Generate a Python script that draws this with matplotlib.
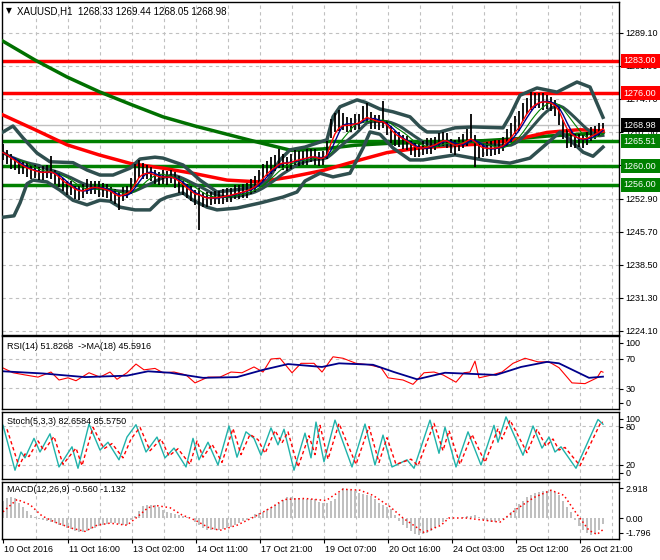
"""
XAUUSD H1 chart with bands, moving averages, RSI, Stochastic and MACD
"""

import matplotlib
matplotlib.use("Agg")
import matplotlib.pyplot as plt
from matplotlib.patches import Rectangle
import numpy as np
import pandas as pd

plt.rcParams['font.family'] = ['Liberation Sans', 'DejaVu Sans']

W, H = 660, 560

# Price data, one bar per 2 hours
close = [
    1263.0, 1262.0, 1261.2, 1260.7, 1260.0, 1259.6, 1259.2, 1259.0, 1258.8, 1258.5,
    1258.6, 1258.8, 1258.8, 1258.0, 1257.0, 1256.0, 1255.6, 1255.2, 1254.4, 1254.3,
    1254.6, 1255.4, 1255.6, 1255.5, 1255.2, 1254.9, 1254.6, 1254.2, 1253.3, 1253.0,
    1254.0, 1254.4, 1255.2, 1257.6, 1259.0, 1259.0, 1258.7, 1258.4, 1257.7, 1257.4,
    1257.6, 1257.6, 1257.7, 1257.0, 1256.2, 1255.3, 1254.6, 1254.0, 1253.3, 1253.6,
    1253.0, 1252.8, 1253.1, 1253.2, 1253.3, 1253.5, 1253.7, 1253.9, 1254.2, 1254.4,
    1254.6, 1255.0, 1255.4, 1256.0, 1257.2, 1258.3, 1259.3, 1260.0, 1260.3, 1261.2,
    1261.0, 1260.6, 1261.0, 1261.6, 1261.6, 1261.8, 1262.0, 1262.3, 1262.0, 1261.5,
    1261.8, 1263.1, 1267.6, 1269.2, 1269.6, 1269.4, 1269.0, 1269.0, 1269.5, 1269.7,
    1270.8, 1271.2, 1270.0, 1269.7, 1269.5, 1269.7, 1268.4, 1267.0, 1266.2, 1265.9,
    1265.5, 1265.0, 1264.3, 1263.6, 1263.8, 1264.0, 1264.3, 1264.6, 1265.0, 1265.6,
    1266.0, 1265.5, 1264.5, 1264.2, 1264.9, 1265.3, 1266.0, 1266.5, 1264.7, 1263.7,
    1263.6, 1263.8, 1264.0, 1264.0, 1264.3, 1264.8, 1266.1, 1267.2, 1268.6, 1269.4,
    1271.6, 1273.0, 1273.8, 1274.1, 1274.4, 1274.2, 1274.0, 1273.6, 1272.7, 1271.0,
    1268.0, 1266.4, 1266.0, 1265.9, 1265.8, 1265.8, 1266.2, 1267.0, 1267.4, 1268.0,
    1268.98,
]
# high - close
up = [
    1.8, 1.5, 1.6, 1.2, 1.4, 1.3, 1.5, 1.2, 1.6, 1.4,
    1.5, 1.6, 3.5, 1.3, 1.6, 1.4, 1.2, 1.5, 1.3, 1.4,
    1.6, 1.8, 1.3, 1.2, 1.5, 1.4, 1.6, 1.3, 1.8, 1.5,
    1.6, 1.4, 2.2, 3.0, 2.4, 1.8, 1.6, 1.4, 1.5, 1.3,
    1.6, 1.4, 1.5, 1.8, 1.6, 1.4, 1.5, 1.7, 1.5, 1.6,
    1.4, 1.6, 1.3, 1.5, 1.4, 1.6, 1.5, 1.4, 1.7, 1.5,
    1.6, 1.4, 1.8, 2.0, 1.9, 2.2, 1.8, 2.0, 2.2, 2.6,
    1.8, 1.5, 1.6, 2.0, 1.8, 1.6, 1.7, 1.5, 1.8, 1.6,
    1.5, 2.5, 2.8, 2.4, 2.6, 2.2, 1.8, 1.6, 2.0, 1.8,
    2.4, 2.6, 1.8, 1.6, 1.8, 4.6, 1.5, 1.8, 1.6, 1.5,
    1.4, 1.6, 1.3, 1.5, 1.4, 1.6, 1.8, 1.5, 1.4, 1.6,
    1.5, 1.8, 1.4, 1.6, 1.5, 1.8, 2.2, 5.0, 2.2, 1.6,
    1.4, 1.5, 1.6, 1.8, 1.4, 1.6, 2.0, 2.2, 2.4, 2.6,
    2.2, 2.0, 2.4, 1.8, 1.6, 1.7, 1.5, 1.6, 1.8, 2.0,
    2.2, 1.8, 1.4, 1.2, 1.3, 1.2, 1.4, 1.5, 1.3, 1.4,
    0.5,
]
# close - low
dn = [
    1.6, 1.5, 1.8, 1.4, 1.6, 1.3, 1.5, 1.8, 1.4, 1.5,
    1.6, 1.4, 1.5, 1.8, 1.6, 1.4, 1.9, 1.5, 1.6, 1.7,
    1.5, 1.4, 1.6, 1.5, 1.8, 1.6, 1.4, 1.8, 1.6, 2.6,
    1.5, 1.4, 1.2, 1.5, 1.6, 1.8, 1.4, 1.5, 1.6, 1.4,
    1.5, 1.6, 1.4, 1.8, 2.0, 1.6, 1.5, 1.6, 1.8, 7.5,
    1.8, 1.6, 1.5, 1.4, 1.6, 1.8, 1.5, 1.6, 1.4, 1.5,
    1.6, 2.0, 1.5, 1.6, 1.4, 1.5, 1.3, 1.6, 1.4, 1.5,
    1.8, 1.6, 1.5, 1.4, 1.6, 1.5, 1.8, 1.4, 1.6, 1.5,
    1.6, 1.4, 1.5, 1.6, 1.8, 1.5, 1.6, 1.4, 1.5, 1.6,
    1.4, 1.5, 1.8, 1.6, 1.5, 1.4, 1.6, 1.8, 1.7, 1.6,
    1.8, 1.5, 1.8, 1.6, 1.7, 1.5, 1.6, 1.8, 1.5, 1.4,
    1.6, 1.5, 1.6, 1.8, 1.5, 1.4, 1.6, 1.5, 4.9, 1.8,
    1.6, 1.5, 1.7, 1.6, 1.5, 1.4, 1.6, 1.8, 1.5, 1.6,
    1.8, 1.6, 1.5, 1.4, 1.6, 1.8, 1.5, 1.6, 1.8, 2.0,
    2.0, 2.4, 1.8, 1.9, 1.6, 1.8, 1.6, 1.5, 1.4, 1.3,
    0.9,
]

# Long moving averages, read every 16 hours
long_ma_hours = [0, 16, 32, 48, 64, 80, 96, 112, 128, 144, 160, 176, 192, 208, 224, 240, 256, 272, 288, 300]
ma_slow_green = [1287.3, 1283.2, 1279.5, 1276.3, 1273.5, 1270.8, 1268.8, 1267.0, 1265.2, 1263.5,
                 1263.8, 1264.6, 1265.0, 1265.2, 1265.4, 1265.6, 1266.0, 1266.6, 1267.0, 1267.4]
ma_slow_red = [1271.2, 1268.0, 1264.7, 1262.5, 1260.6, 1259.6, 1258.4, 1257.0, 1256.6, 1257.7,
               1259.1, 1261.1, 1263.0, 1264.0, 1264.5, 1264.9, 1265.8, 1267.4, 1268.0, 1267.7]

# Bollinger band edges, turning points (hour index, price)
bb_up_hours = [0, 5, 10, 17, 23.5, 35, 42, 48.5, 55, 63.5, 68.5, 76, 80, 90, 98.5, 107, 115, 123.5,
               132, 138.5, 143.5, 151, 155, 162, 165, 168.5, 177, 181, 188.5, 195, 203.5, 208.5,
               212, 218.5, 226, 235, 250, 253.5, 258.5, 267, 277, 287, 293.5, 300]
bb_up_vals = [1267.5, 1268.8, 1266.2, 1262.9, 1261.0, 1260.8, 1259.2, 1258.1, 1258.1, 1259.6, 1261.6,
              1262.0, 1261.8, 1260.3, 1257.0, 1254.4, 1254.8, 1255.3, 1256.6, 1261.4, 1263.6,
              1264.2, 1264.8, 1265.8, 1270.8, 1273.0, 1274.5, 1274.0, 1272.5, 1271.9, 1270.8,
              1268.6, 1267.5, 1267.5, 1268.4, 1268.6, 1268.4, 1271.0, 1275.5, 1277.1, 1276.2,
              1278.4, 1277.3, 1270.7]
bb_lo_hours = [0, 5.5, 8.5, 12, 15, 22, 28.5, 35, 42, 48.5, 53.5, 58.5, 66, 73.5, 78.5, 82, 90, 95,
               102, 107, 117, 128.5, 140, 147, 151, 158.5, 165, 173.5, 180, 183.5, 188.5, 195,
               203.5, 210, 218.5, 226, 240, 253.5, 263.5, 272, 278.5, 282, 290, 295, 300]
bb_lo_vals = [1248.9, 1249.2, 1252.0, 1256.2, 1257.0, 1256.6, 1254.8, 1252.6, 1251.6, 1252.6, 1252.4,
              1251.1, 1250.5, 1250.5, 1252.6, 1253.3, 1254.2, 1252.6, 1251.1, 1250.5, 1250.9,
              1252.0, 1253.3, 1254.4, 1256.8, 1258.5, 1257.7, 1258.5, 1264.0, 1267.5, 1267.0,
              1264.0, 1261.4, 1261.4, 1262.0, 1262.5, 1261.4, 1260.7, 1261.8, 1265.0, 1267.5,
              1266.4, 1263.1, 1262.2, 1264.2]

# Horizontal levels
red_levels = [1283.00, 1276.00]
green_levels = [1265.51, 1260.00, 1256.00]
bid = 1268.98

# RSI(14) and its MA(18), turning points (hour index, value)
rsi_hours = [0, 5, 11, 17.5, 24, 28, 32.5, 36.5, 43, 48.5, 53.5, 57, 62, 66.5, 70.5, 76, 80, 85.5,
             91.5, 96, 102.5, 108.5, 114, 119.5, 125.5, 130, 134, 138.5, 144.5, 149, 155.5, 159.5,
             165, 170, 176.5, 183, 189, 192.5, 200, 205, 210.5, 215.5, 220, 226.5, 230.5, 233.5,
             236, 238, 244.5, 249.5, 255, 261, 267.5, 273, 278, 284.5, 291, 297, 299, 300]
rsi_vals = [57.6, 51, 48, 45, 52, 41, 44, 40, 51, 45, 52, 42, 51, 63, 55, 57, 51, 52,
            48, 37, 45, 45, 52, 51, 59, 52, 70, 71, 51, 64, 64, 52,
            73, 71, 64, 62, 58, 44, 41, 35, 51, 52, 48, 38, 51, 52,
            67, 44, 48, 52, 64, 71, 66, 66, 58, 37, 36, 44, 53, 51.8]
rsi_ma_hours = [0, 20, 41, 62, 72.5, 83.5, 100, 117, 130, 142.5, 159.5, 168, 185, 195.5, 207,
                221, 246.5, 259, 272, 278, 293, 300]
rsi_ma_vals = [53, 50, 45, 47, 53, 51, 44, 45, 55, 63, 59, 64, 62, 52, 42,
               51, 48, 59, 66, 64, 44, 45.6]

# Stochastic(5,3,3) main and signal, turning points
stoch_k_hours = [0, 6, 9, 11, 15.5, 18.5, 23.5, 28, 34.5, 37.5, 43, 48.5, 52.5, 58, 62, 66.5, 71.5,
                 77, 81, 85.5, 91.5, 95, 98, 102.5, 107.5, 113, 117, 121.5, 125.5, 129, 134, 137.5,
                 140.5, 145.5, 151, 154, 156.5, 160.5, 166, 174.5, 181, 186, 190, 194.5, 202,
                 205.5, 213.5, 218, 221, 226.5, 232.5, 239, 245.5, 247.5, 251.5, 260, 265, 269.5,
                 273, 276, 279, 286.5, 297.5, 300]
stoch_k_vals = [81, 12, 40, 31, 61, 40, 68, 17, 48, 15, 83, 43, 55, 28, 63, 82, 40,
                63, 31, 46, 17, 61, 28, 55, 20, 80, 32, 71, 61, 35, 77, 51,
                75, 12, 69, 31, 86, 25, 89, 17, 83, 20, 66, 17, 28,
                15, 89, 38, 78, 17, 71, 20, 81, 55, 94, 35, 80, 46,
                63, 40, 48, 15, 90, 82.7]
stoch_d_hours = [2, 8, 11, 13, 17.5, 20.5, 25.5, 30, 36.5, 39.5, 45, 50.5, 54.5, 60, 64, 68.5, 73.5,
                 79, 83, 87.5, 93.5, 97, 100, 104.5, 109.5, 115, 119, 123.5, 127.5, 131, 136, 139.5,
                 142.5, 147.5, 153, 156, 158.5, 162.5, 168, 176.5, 183, 188, 192, 196.5, 204,
                 207.5, 215.5, 220, 223, 228.5, 234.5, 241, 247.5, 249.5, 253.5, 262, 267, 271.5,
                 275, 278, 281, 288.5, 299, 300]
stoch_d_vals = [75, 18, 37, 33, 57, 42, 64, 21, 46, 19, 78, 45, 53, 31, 60, 78, 42,
                60, 34, 45, 21, 57, 32, 52, 24, 76, 36, 67, 59, 38, 73, 54,
                71, 17, 65, 36, 81, 29, 84, 21, 79, 24, 62, 21, 29,
                19, 84, 42, 73, 21, 67, 24, 76, 60, 89, 39, 75, 49,
                60, 43, 47, 19, 86, 85.6]

# MACD(12,26,9) histogram, one value per 2-hour bar, and its signal line (turning points)
macd_hist = [
    1.7, 1.95, 2.0, 1.9, 1.5, 1.1, 0.65, 0.25, 0.05, -0.1,
    -0.2, -0.3, -0.4, -0.5, -0.65, -0.8, -0.95, -1.1, -1.25, -1.4,
    -1.35, -1.25, -1.1, -0.95, -0.8, -0.7, -0.6, -0.5, -0.5, -0.6,
    -0.65, -0.7, -0.2, 0.2, 0.7, 1.15, 1.3, 1.3, 1.25, 1.05,
    0.75, 0.55, 0.45, 0.35, 0.3, 0.2, 0.1, 0.0, -0.35, -0.7,
    -0.95, -1.15, -1.2, -1.2, -1.2, -1.1, -1.0, -0.9, -0.7, -0.5,
    -0.3, -0.15, 0.1, 0.35, 0.45, 0.6, 0.85, 1.1, 1.3, 1.5,
    1.75, 2.0, 2.0, 1.95, 1.9, 1.85, 1.85, 1.8, 1.8, 1.6,
    1.45, 1.45, 1.65, 1.8, 2.4, 2.9, 2.8, 2.7, 2.6, 2.45,
    2.35, 2.2, 2.1, 1.85, 1.5, 1.25, 1.1, 0.9, 0.3, -0.3,
    -0.65, -1.0, -1.3, -1.55, -1.65, -1.6, -1.5, -1.3, -1.0, -0.7,
    -0.35, -0.05, 0.0, 0.0, 0.0, 0.05, 0.15, 0.2, 0.3, 0.05,
    -0.2, -0.3, -0.35, -0.4, -0.3, -0.1, 0.1, 0.55, 1.0, 1.35,
    1.7, 2.0, 2.2, 2.4, 2.5, 2.6, 2.65, 2.7, 2.5, 2.2,
    1.7, 1.1, 0.6, -0.2, -0.8, -1.2, -1.5, -1.65, -1.6, -1.2,
    -0.56,
]
macd_sig_hours = [0, 7, 13.5, 19.5, 26, 34.5, 41, 47, 53.5, 62, 66.5, 72.5, 77, 83.5, 89.5, 96, 102.5,
                  108.5, 117, 125.5, 134, 140.5, 151, 161.5, 170, 178.5, 185, 193.5, 200, 210.5, 219,
                  223, 231.5, 240, 248.5, 257, 265.5, 274, 280.5, 286.5, 293, 297, 300]
macd_sig_vals = [0.6, 1.8, 1.3, 0.2, -0.4, -1.0, -1.3, -0.7, -0.5, -0.7, 0.0, 1.0, 1.2, 1.0, 0.3,
                 -0.2, -0.9, -1.2, -0.7, 0.1, 1.0, 1.8, 1.9, 1.7, 2.8, 2.7, 2.2, 1.1, 0.0, -1.4,
                 -0.7, 0.0, 0.0, -0.2, -0.4, 0.9, 2.0, 2.7, 2.2, 0.5, -1.2, -1.6, -1.13]

price_ticks = [1289.10, 1281.90, 1274.70, 1267.50, 1260.30, 1252.90, 1245.70, 1238.50, 1231.30, 1224.10]
date_labels = ["10 Oct 2016", "11 Oct 16:00", "13 Oct 02:00", "14 Oct 11:00", "17 Oct 21:00",
               "19 Oct 07:00", "20 Oct 16:00", "24 Oct 03:00", "25 Oct 12:00", "26 Oct 21:00"]
date_hours = [0, 32.5, 64.5, 96.5, 128.5, 160.5, 192.5, 224.5, 256.5, 288.5]

# ---- moving averages from the price bars ----
s = pd.Series(close)
hours = np.arange(len(close)) * 2
high = s + np.array(up)
low = s - np.array(dn)

fast_red = s.ewm(span=3, adjust=False).mean()
fast_blue = s.rolling(4, min_periods=1).mean()
fast_green = s.rolling(7, min_periods=1).mean()
bb_mid = s.rolling(10, min_periods=1).mean()

# ---- layout ----
fig = plt.figure(figsize=(W / 100, H / 100), dpi=100)
XLIM = (-0.5, 308)
grid_kw = dict(color='#C0C0C0', lw=0.8, ls=(0, (3, 3)), zorder=0)


def add_panel(top, bottom, ylim):
    ax = fig.add_axes([2 / W, 1 - bottom / H, 617 / W, (bottom - top) / H])
    ax.set_xlim(*XLIM)
    ax.set_ylim(*ylim)
    for sp in ax.spines.values():
        sp.set_linewidth(1.0)
    ax.set_xticks([])
    ax.yaxis.tick_right()
    ax.tick_params(axis='y', length=3, width=0.8, pad=1.5, labelsize=6.5)
    for k in range(19):
        ax.axvline(16.5 + 16 * k, **grid_kw)
    return ax


def val_at_px(top, bottom, ylim, px):
    lo, hi = ylim
    return hi - (px - top) / (bottom - top) * (hi - lo)


# main price panel
main_top, main_bot = 2, 335
main_ylim = (1223.2, 1295.86)
ax = add_panel(main_top, main_bot, main_ylim)
ax.set_yticks(price_ticks)
ax.set_yticklabels([f"{t:.2f}" for t in price_ticks])
for t in price_ticks:
    ax.axhline(t, **grid_kw)
ax.axhline(bid, color='#C0C0C0', lw=1.0, zorder=1)
for lv in green_levels:
    ax.axhline(lv, color='#008000', lw=2.5, zorder=2)
for lv in red_levels:
    ax.axhline(lv, color='#FF0000', lw=2.5, zorder=2)
ax.plot(long_ma_hours, ma_slow_green, color='#007000', lw=2.5, zorder=3)
ax.plot(long_ma_hours, ma_slow_red, color='#FF0000', lw=2.5, zorder=3)
ax.plot(bb_up_hours, bb_up_vals, color='#2F4F4F', lw=2.5, zorder=3)
ax.plot(bb_lo_hours, bb_lo_vals, color='#2F4F4F', lw=2.5, zorder=3)
ax.plot(hours, bb_mid, color='#2F4F4F', lw=2.2, zorder=3)
ax.vlines(hours, low, high, color='black', lw=1.3, zorder=4)
ax.plot(hours, fast_green, color='#008000', lw=0.8, zorder=5)
ax.plot(hours, fast_blue, color='#00008B', lw=1.0, zorder=5)
ax.plot(hours, fast_red, color='#FF0000', lw=1.0, zorder=5)
fig.text(6 / W, 1 - 11 / H, "\u25bc", fontsize=5.5, va='center', family=['DejaVu Sans'])
fig.text(17 / W, 1 - 11 / H, "XAUUSD,H1  1268.33 1269.44 1268.05 1268.98", fontsize=7, va='center')


def price_px(p):
    lo, hi = main_ylim
    return main_top + (hi - p) / (hi - lo) * (main_bot - main_top)


boxes = [(lv, '#FF0000') for lv in red_levels] + [(bid, 'black')] + [(lv, '#008000') for lv in green_levels]
for p, col in boxes:
    yp = price_px(p)
    fig.add_artist(Rectangle((621 / W, 1 - (yp + 7) / H), 39 / W, 14 / H, transform=fig.transFigure,
                             facecolor=col, edgecolor='none', zorder=10))
    fig.text(623 / W, 1 - yp / H, f"{p:.2f}", color='white', fontsize=6.5, va='center', zorder=11)

# RSI panel
rsi_ylim = (1.0, 101.7)
ax_rsi = add_panel(336, 409, rsi_ylim)
for lv in (70, 30):
    ax_rsi.axhline(lv, **grid_kw)
ax_rsi.plot(rsi_hours, rsi_vals, color='#FF0000', lw=0.8)
ax_rsi.plot(rsi_ma_hours, rsi_ma_vals, color='#00008B', lw=1.3)
ax_rsi.set_yticks([val_at_px(336, 409, rsi_ylim, p) for p in (343, 359, 389, 403)])
ax_rsi.set_yticklabels(["100", "70", "30", "0"])
ax_rsi.text(0.008, 0.86, "RSI(14) 51.8268  ->MA(18) 45.5916", transform=ax_rsi.transAxes,
            fontsize=6.5, va='center')

# Stochastic panel
st_ylim = (-1.5, 101.5)
ax_st = add_panel(412, 479, st_ylim)
for lv in (80, 20):
    ax_st.axhline(lv, **grid_kw)
ax_st.plot(stoch_k_hours, stoch_k_vals, color='#20B2AA', lw=1.0)
ax_st.plot(stoch_d_hours, stoch_d_vals, color='#FF0000', lw=1.0, ls=(0, (2.5, 2)))
ax_st.set_yticks([val_at_px(412, 479, st_ylim, p) for p in (419, 427, 465, 473)])
ax_st.set_yticklabels(["100", "80", "20", "0"])
ax_st.text(0.008, 0.86, "Stoch(5,3,3) 82.6584 85.5750", transform=ax_st.transAxes,
           fontsize=6.5, va='center')

# MACD panel
macd_ylim = (-2.04, 3.5)
ax_m = add_panel(482, 539, macd_ylim)
ax_m.bar(hours, macd_hist, width=1.1, color='#C0C0C0', zorder=1)
ax_m.plot(macd_sig_hours, macd_sig_vals, color='#FF0000', lw=1.1, ls=(0, (1, 1.8)), zorder=2)
ax_m.set_yticks([val_at_px(482, 539, macd_ylim, p) for p in (488, 518, 533)])
ax_m.set_yticklabels(["2.918", "0.00", "-1.796"])
ax_m.text(0.008, 0.86, "MACD(12,26,9) -0.560 -1.132", transform=ax_m.transAxes,
          fontsize=6.5, va='center')
ax_m.set_xticks(date_hours)
ax_m.set_xticklabels([])
ax_m.tick_params(axis='x', length=3, width=0.8)
for lab, hh in zip(date_labels, date_hours):
    xp = 3 + 2 * hh
    fig.text((xp + 1) / W, 1 - 549 / H, lab, fontsize=6.5, va='center', ha='left')

fig.savefig("out.png", dpi=100)
